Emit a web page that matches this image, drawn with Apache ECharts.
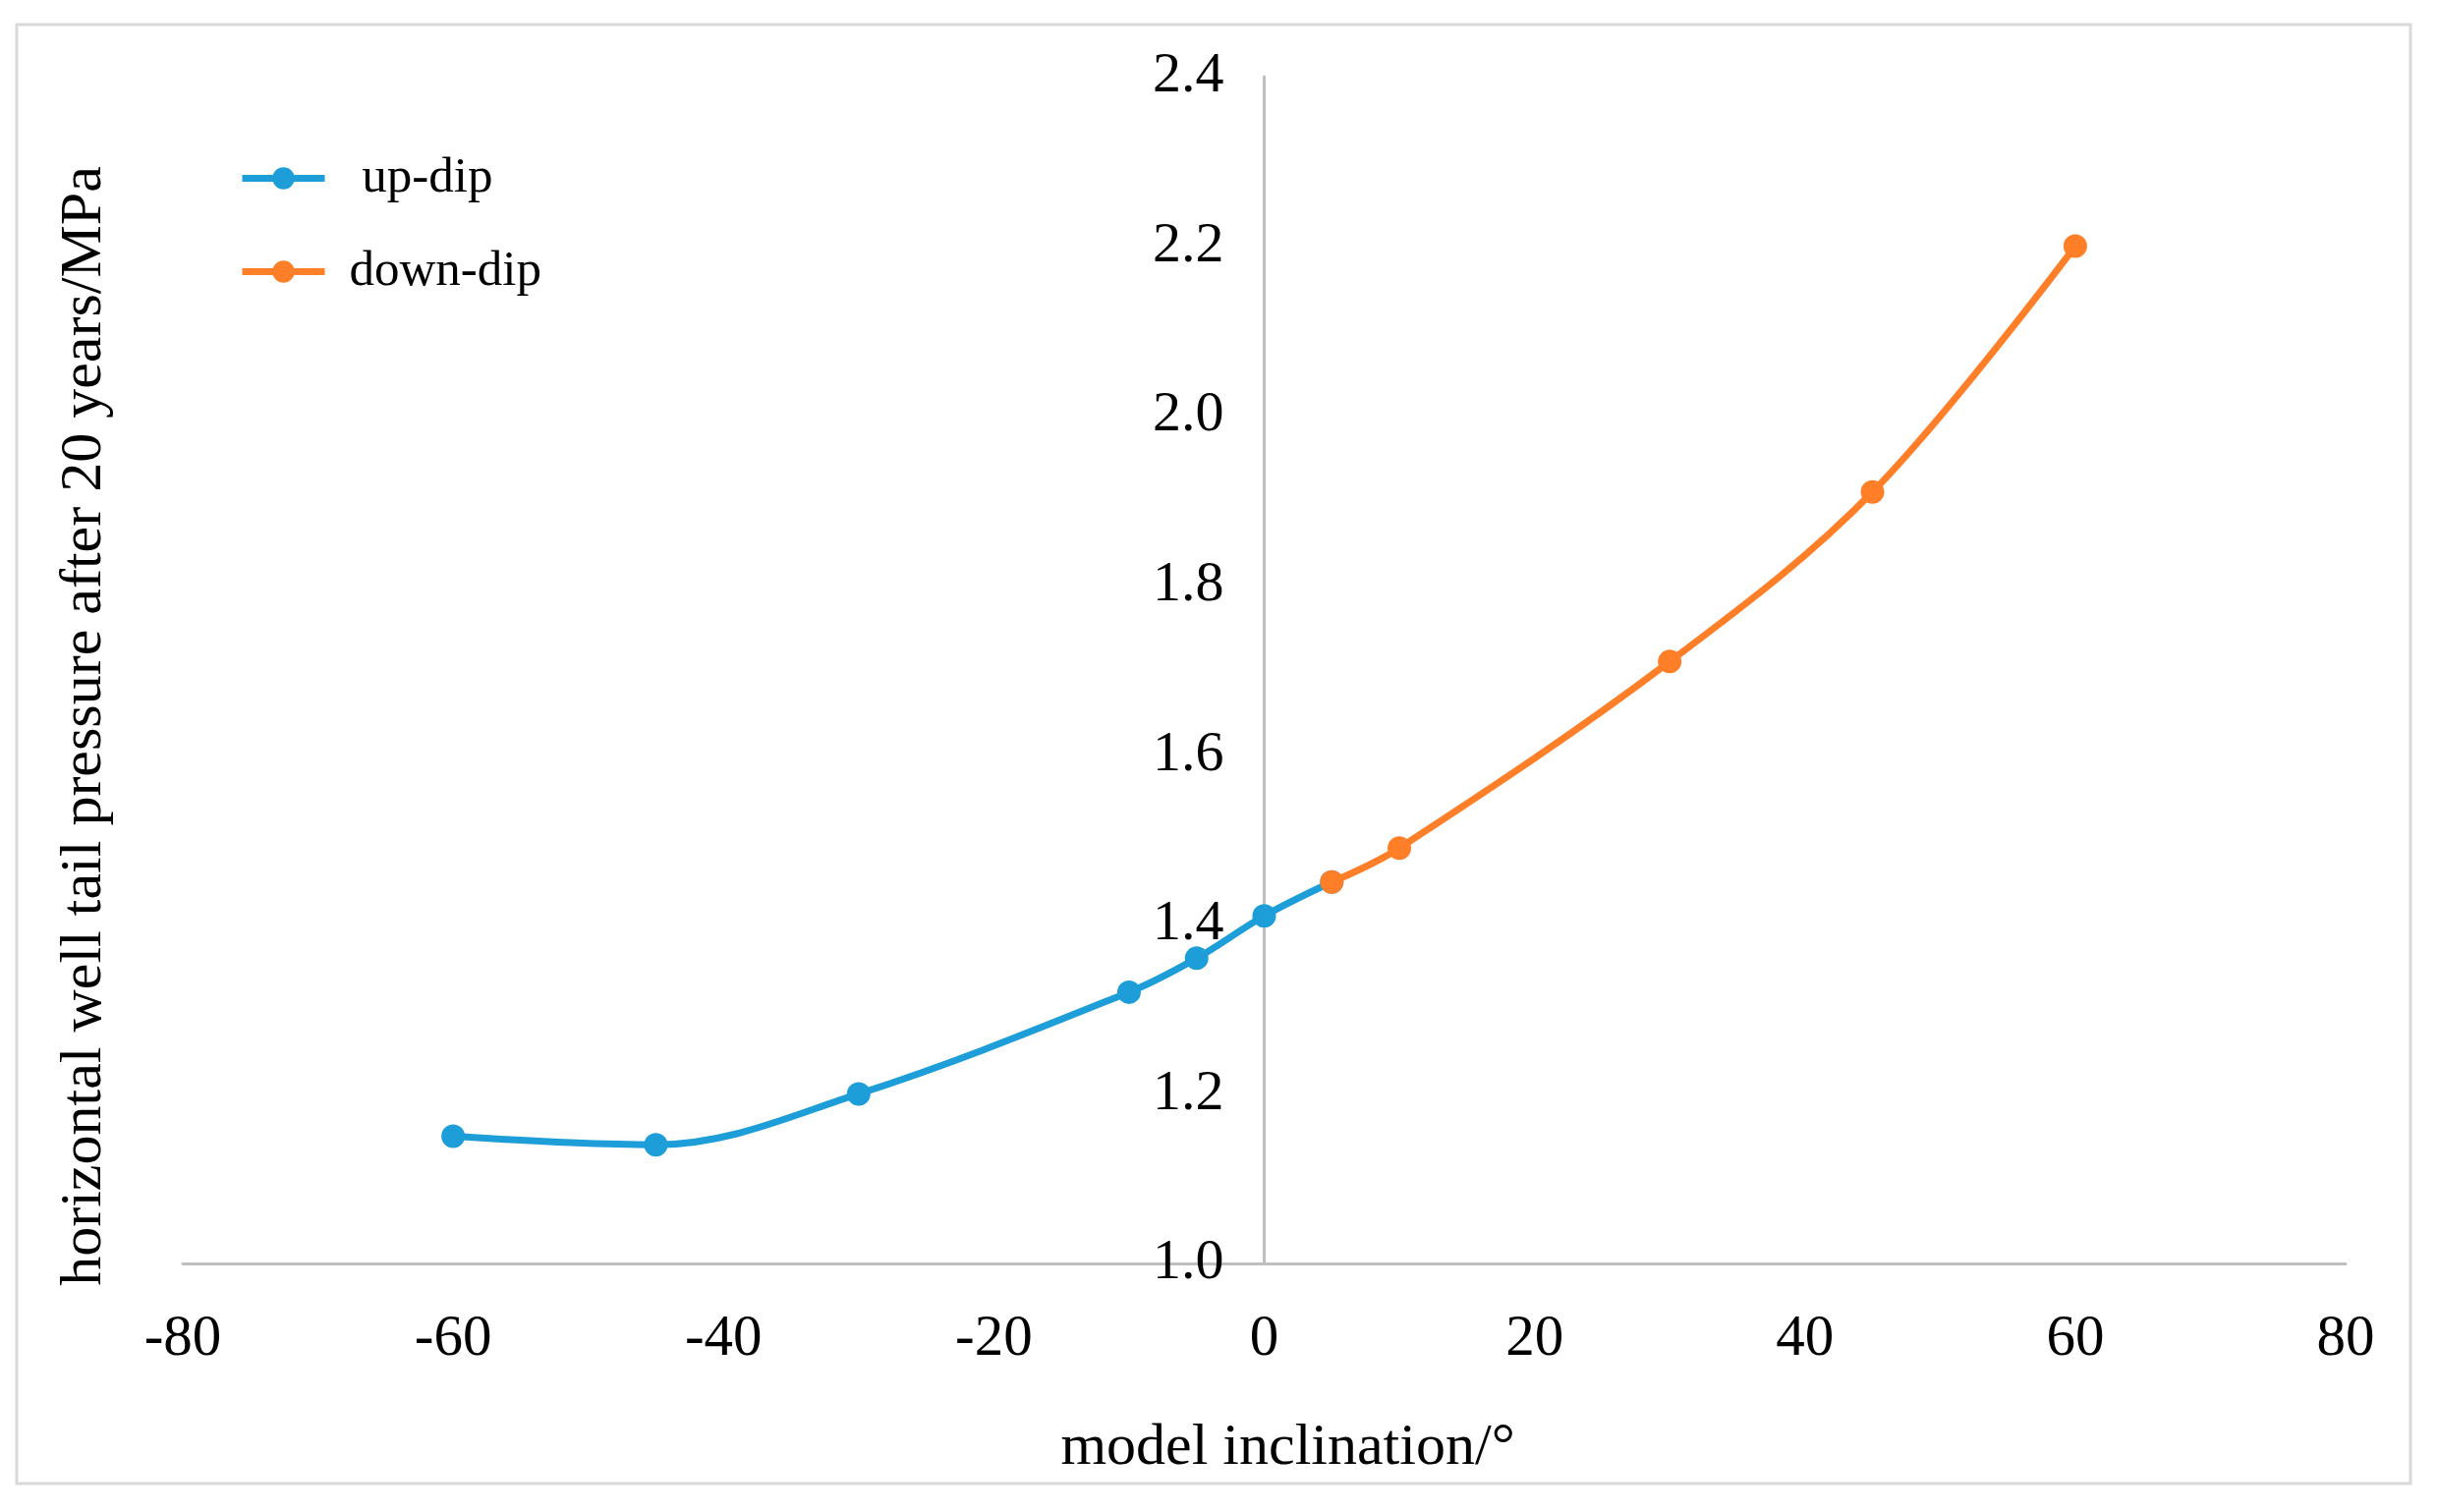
<!DOCTYPE html>
<html>
<head>
<meta charset="utf-8">
<script src="https://cdn.jsdelivr.net/npm/echarts@6/dist/echarts.min.js"></script>
<style>
html,body{margin:0;padding:0;background:#fff;}
#chart{width:2480px;height:1539px;}
</style>
</head>
<body>
<div id="chart"></div>
<script>
// Data
const upDipX = [-60, -45, -30, -10, -5, 0, 5];
const upDipY = [1.15, 1.14, 1.20, 1.32, 1.36, 1.41, 1.45];
const downDipX = [5, 10, 30, 45, 60];
const downDipY = [1.45, 1.49, 1.71, 1.91, 2.20];
const xTicks = { min: -80, max: 80, interval: 20 };
const yTicks = { min: 1.0, max: 2.4, interval: 0.2 };
const seriesNames = [' up-dip', 'down-dip'];
const axisTitles = { x: 'model inclination/°', y: 'horizontal well tail pressure after 20 years/MPa' };

const FONT = '"Liberation Serif", "Times New Roman", serif';
const BLUE = '#1E9ED9';
const ORANGE = '#FE7F27';

const GRID_LEFT = 186, GRID_RIGHT = 93;
const PLOT_W = 2480 - GRID_LEFT - GRID_RIGHT;
// y axis crosses the x axis at value 0
const yAxisOffset = -PLOT_W * (0 - xTicks.min) / (xTicks.max - xTicks.min);

const chart = echarts.init(document.getElementById('chart'), null, { renderer: 'canvas' });

const zip = (xs, ys) => xs.map((x, i) => [x, ys[i]]);

chart.setOption({
  animation: false,
  backgroundColor: '#ffffff',
  grid: { left: GRID_LEFT, right: GRID_RIGHT, top: 78, bottom: 253, containLabel: false },
  legend: {
    orient: 'vertical',
    left: 238,
    top: 151,
    itemWidth: 84,
    itemHeight: 28,
    itemGap: 44,
    lineStyle: { width: 7 },
    textStyle: { fontFamily: FONT, fontSize: 51, color: '#000', padding: [0, 0, 0, 20] },
    data: seriesNames
  },
  xAxis: {
    type: 'value',
    min: xTicks.min,
    max: xTicks.max,
    interval: xTicks.interval,
    name: axisTitles.x,
    nameLocation: 'middle',
    nameGap: 158,
    nameTextStyle: { fontFamily: FONT, fontSize: 60, color: '#000', padding: [0, 0, 0, 48] },
    axisLine: { show: true, onZero: false, lineStyle: { color: '#BFBFBF', width: 3 } },
    axisTick: { show: false },
    splitLine: { show: false },
    axisLabel: { fontFamily: FONT, fontSize: 59, color: '#000', margin: 48 }
  },
  yAxis: {
    type: 'value',
    min: yTicks.min,
    max: yTicks.max,
    interval: yTicks.interval,
    position: 'left',
    offset: yAxisOffset,
    axisLine: { show: true, onZero: false, lineStyle: { color: '#BFBFBF', width: 3 } },
    axisTick: { show: false },
    splitLine: { show: false },
    axisLabel: {
      fontFamily: FONT, fontSize: 58, color: '#000', margin: 41,
      formatter: v => v.toFixed(1)
    }
  },
  graphic: [
    {
      type: 'rect',
      shape: { x: 17, y: 25, width: 2436, height: 1485 },
      style: { fill: 'none', stroke: '#D9D9D9', lineWidth: 3 },
      z: -1
    },
    {
      type: 'text',
      x: 86,
      y: 739,
      rotation: Math.PI / 2,
      style: {
        text: axisTitles.y,
        fontFamily: FONT,
        fontSize: 60,
        fill: '#000',
        textAlign: 'center',
        textVerticalAlign: 'middle'
      }
    }
  ],
  series: [
    {
      name: seriesNames[0],
      type: 'line',
      data: zip(upDipX, upDipY),
      smooth: 0.35,
      symbol: 'circle',
      symbolSize: 24,
      color: BLUE,
      lineStyle: { color: BLUE, width: 7 },
      itemStyle: { color: BLUE },
      z: 2
    },
    {
      name: seriesNames[1],
      type: 'line',
      data: zip(downDipX, downDipY),
      smooth: 0.35,
      symbol: 'circle',
      symbolSize: 24,
      color: ORANGE,
      lineStyle: { color: ORANGE, width: 7 },
      itemStyle: { color: ORANGE },
      z: 3
    }
  ]
});
</script>
</body>
</html>
